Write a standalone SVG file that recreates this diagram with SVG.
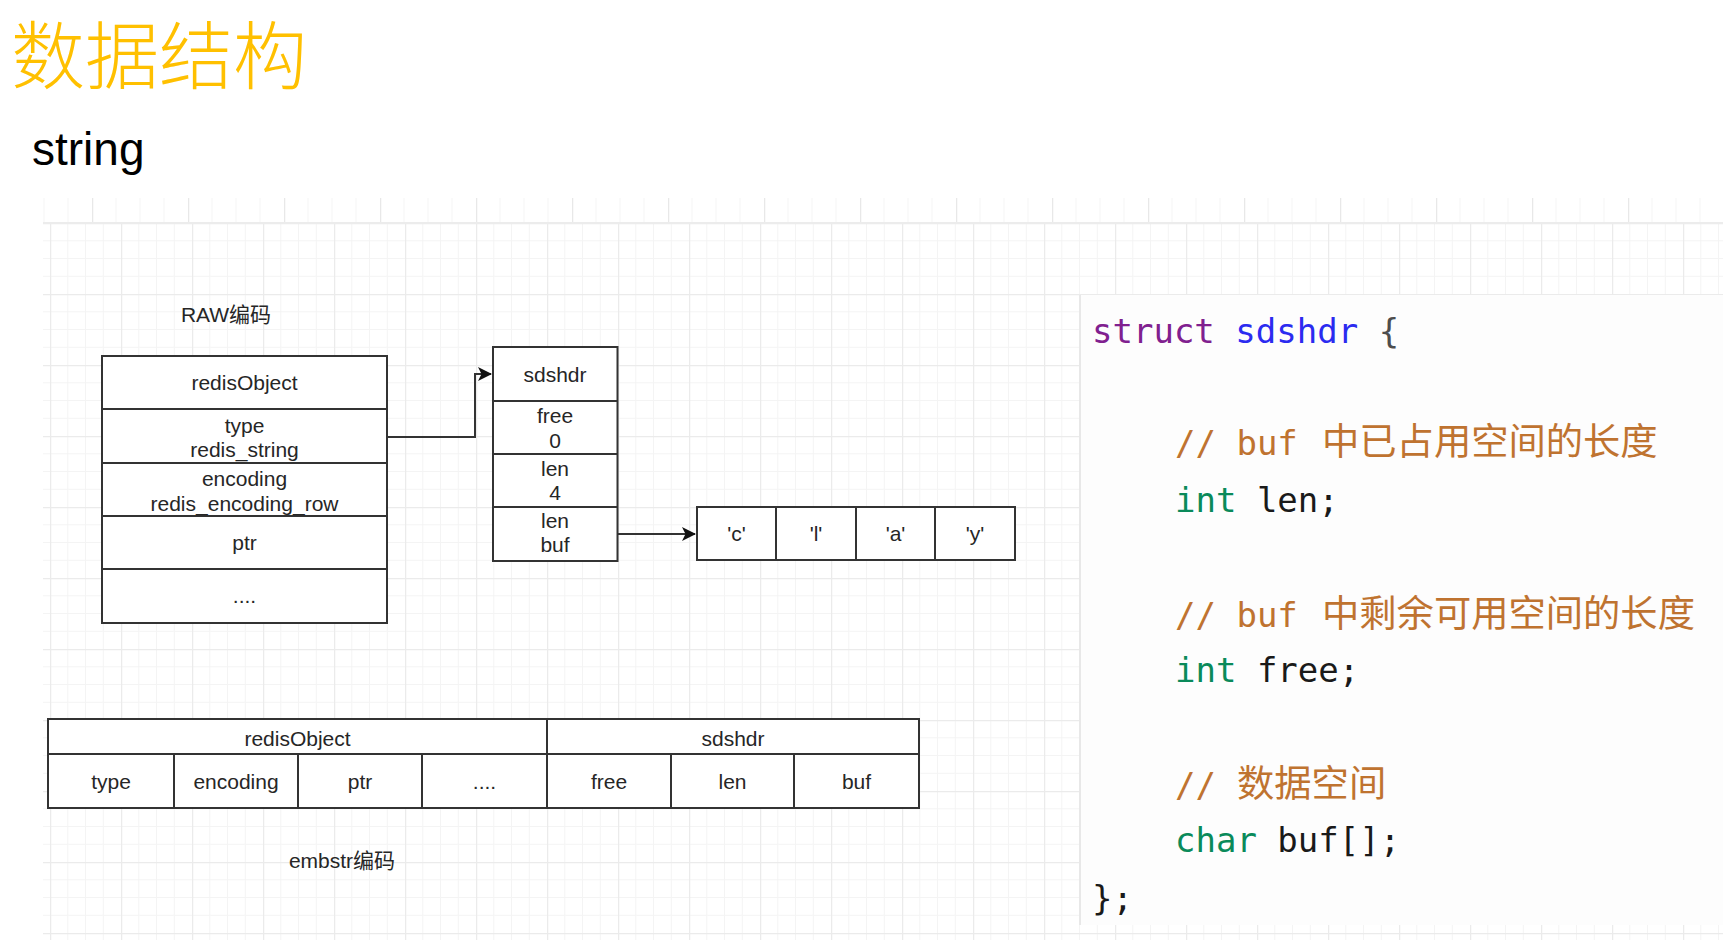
<svg xmlns="http://www.w3.org/2000/svg" width="1723" height="940" viewBox="0 0 1723 940">
<style>
.box{fill:#fff;stroke:#333;stroke-width:2}
.ln{stroke:#333;stroke-width:2;fill:none}
.lbl{font-family:"Liberation Sans",Arial,"Noto Sans CJK SC",sans-serif;font-size:21px;fill:#262626;text-anchor:middle}
.code{font-family:"DejaVu Sans Mono","Liberation Mono",monospace;font-size:34px;fill:#1a1a1a}
.cjk{font-family:"Noto Sans CJK SC",sans-serif;font-size:37.3px}
.kw{fill:#80208f}.def{fill:#2b2bf0}.ty{fill:#0a8a5a}.cm{fill:#bf7330}
</style>
<defs>
<pattern id="grid" patternUnits="userSpaceOnUse" x="50" y="223" width="71" height="71">
<path d="M17.75 0V71M35.5 0V71M53.25 0V71M0 17.75H71M0 35.5H71M0 53.25H71" stroke="#f4f4f4" stroke-width="1" fill="none"/>
<path d="M0.5 0V71M0 0.5H71" stroke="#ebebeb" stroke-width="1.5" fill="none"/>
</pattern>
<pattern id="strip" patternUnits="userSpaceOnUse" x="-4" y="198" width="96" height="25">
<path d="M24 0V25M48 0V25M72 0V25" stroke="#f5f5f5" stroke-width="1" fill="none"/>
<path d="M0.5 0V25" stroke="#e8e8e8" stroke-width="1.5" fill="none"/>
</pattern>
<marker id="arr" markerWidth="14" markerHeight="14" refX="13" refY="7" orient="auto" markerUnits="userSpaceOnUse">
<path d="M0 0L14 7L0 14L3.5 7Z" fill="#111"/>
</marker>
</defs>
<rect width="1723" height="940" fill="#fff"/>
<g id="background">
<rect x="43" y="198" width="1680" height="25" fill="url(#strip)"/>
<rect x="43" y="223" width="1680" height="717" fill="url(#grid)"/>
<line x1="43" y1="223" x2="1723" y2="223" stroke="#ececec" stroke-width="2"/>
<rect x="1080" y="295" width="643" height="630" fill="#fdfdfd"/>
<line x1="1080" y1="295" x2="1080" y2="925" stroke="#e8e8e8" stroke-width="2"/>
</g>
<g id="title">
<text x="11" y="83" font-family="Noto Sans CJK SC,sans-serif" font-weight="300" font-size="74" fill="#FFC000">数据结构</text>
<text x="32" y="165" font-family="Liberation Sans,Arial,sans-serif" font-size="46" fill="#000">string</text>
</g>
<g id="raw-label"><text class="lbl" x="226" y="322">RAW编码</text></g>
<g id="redisObject">
<rect class="box" x="102" y="356" width="285" height="267"/>
<path class="ln" d="M102 409H387M102 463H387M102 516H387M102 569H387"/>
<text class="lbl" x="244.5" y="390">redisObject</text>
<text class="lbl" x="244.5" y="433">type</text>
<text class="lbl" x="244.5" y="457">redis_string</text>
<text class="lbl" x="244.5" y="486">encoding</text>
<text class="lbl" x="244.5" y="511">redis_encoding_row</text>
<text class="lbl" x="244.5" y="550">ptr</text>
<text class="lbl" x="244.5" y="603" fill="#888">....</text>
</g>
<g id="sdshdr">
<rect class="box" x="493" y="347" width="124.5" height="214"/>
<path class="ln" d="M493 401H617.5M493 454H617.5M493 507H617.5"/>
<text class="lbl" x="555" y="382">sdshdr</text>
<text class="lbl" x="555" y="423">free</text>
<text class="lbl" x="555" y="448">0</text>
<text class="lbl" x="555" y="476">len</text>
<text class="lbl" x="555" y="500">4</text>
<text class="lbl" x="555" y="528">len</text>
<text class="lbl" x="555" y="552">buf</text>
</g>
<g id="buf-array">
<rect class="box" x="697" y="507" width="318" height="53"/>
<path class="ln" d="M776 507V560M856 507V560M935 507V560"/>
<text class="lbl" x="736.5" y="541">'c'</text>
<text class="lbl" x="816" y="541">'l'</text>
<text class="lbl" x="895.5" y="541">'a'</text>
<text class="lbl" x="975" y="541">'y'</text>
</g>
<g id="connectors">
<path class="ln" d="M387 437H475V374H491" marker-end="url(#arr)"/>
<path class="ln" d="M617.5 534H695" marker-end="url(#arr)"/>
</g>
<g id="embstr">
<rect class="box" x="48" y="719" width="871" height="89"/>
<path class="ln" d="M48 754H919M547 719V808M174 754V808M298 754V808M422 754V808M671 754V808M794 754V808"/>
<text class="lbl" x="297.5" y="746">redisObject</text>
<text class="lbl" x="733" y="746">sdshdr</text>
<text class="lbl" x="111" y="789">type</text>
<text class="lbl" x="236" y="789">encoding</text>
<text class="lbl" x="360" y="789">ptr</text>
<text class="lbl" x="484.5" y="789" fill="#888">....</text>
<text class="lbl" x="609" y="789">free</text>
<text class="lbl" x="732.5" y="789">len</text>
<text class="lbl" x="856.5" y="789">buf</text>
</g>
<g id="embstr-label"><text class="lbl" x="342" y="868">embstr编码</text></g>
<g id="code">
<text class="code" x="1092" y="343"><tspan class="kw">struct</tspan> <tspan class="def">sdshdr</tspan> <tspan fill="#4d4d4d">{</tspan></text>
<text class="code cm" x="1175" y="455">// buf<tspan class="cjk" x="1322">中已占用空间的长度</tspan></text>
<text class="code" x="1175" y="512"><tspan class="ty">int</tspan> len;</text>
<text class="code cm" x="1175" y="627">// buf<tspan class="cjk" x="1322">中剩余可用空间的长度</tspan></text>
<text class="code" x="1175" y="682"><tspan class="ty">int</tspan> free;</text>
<text class="code cm" x="1175" y="797">//<tspan class="cjk" x="1237">数据空间</tspan></text>
<text class="code" x="1175" y="852"><tspan class="ty">char</tspan> buf[];</text>
<text class="code" x="1092" y="910">};</text>
</g>
</svg>
